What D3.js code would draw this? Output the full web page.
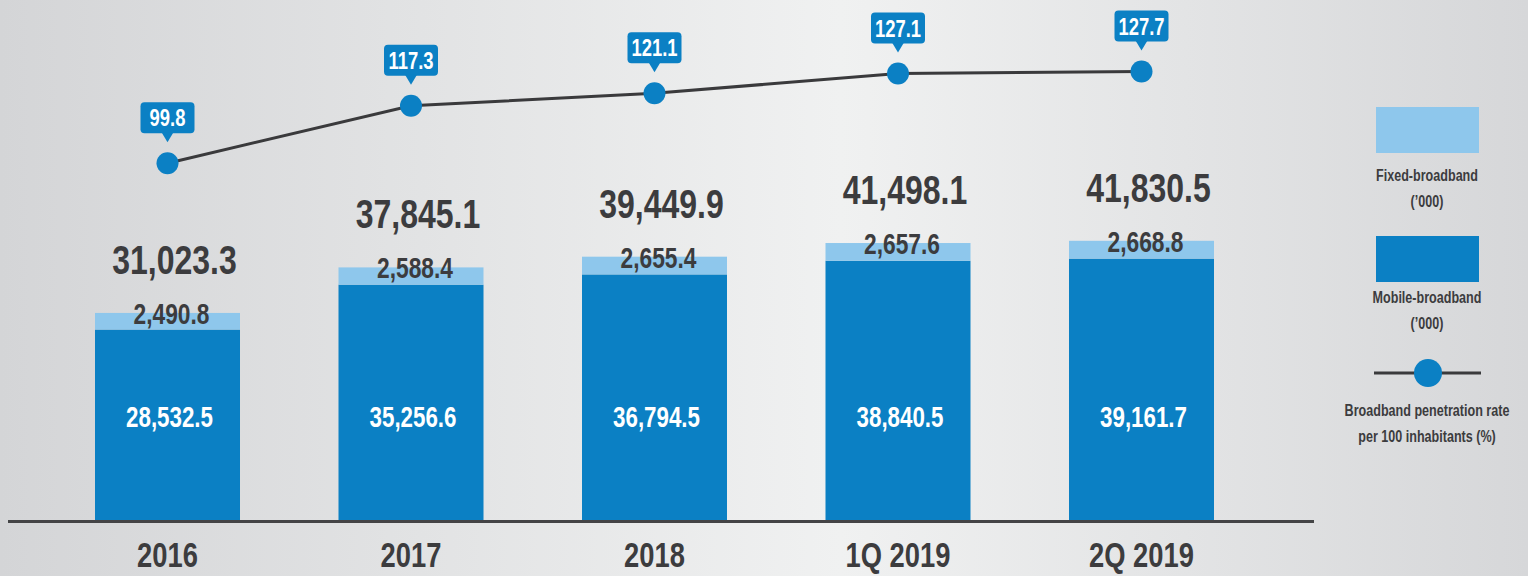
<!DOCTYPE html>
<html lang="en">
<head>
  <meta charset="UTF-8">
  <title>Broadband subscriptions</title>
  <script src="https://d3js.org/d3.v7.min.js"></script>
  <style>
    body {
      margin: 0;
      overflow: hidden;
    }
    svg text {
      font-family: 'Liberation Sans', Arial, sans-serif;
      font-weight: bold;
    }
  </style>
</head>
<body>
  <div id="chart"></div>
  <script>
    const periods = ["2016", "2017", "2018", "1Q 2019", "2Q 2019"];
    const mobileBroadband = [28532.5, 35256.6, 36794.5, 38840.5, 39161.7];
    const fixedBroadband = [2490.8, 2588.4, 2655.4, 2657.6, 2668.8];
    const totalBroadband = [31023.3, 37845.1, 39449.9, 41498.1, 41830.5];
    const penetrationRate = [99.8, 117.3, 121.1, 127.1, 127.7];

    const width = 1528, height = 576;
    const darkBlue = "#0b80c4", lightBlue = "#8ec7ec", textColor = "#3c3c3e";

    const svg = d3.select("#chart").append("svg")
      .attr("width", width)
      .attr("height", height);

    // background
    const defs = svg.append("defs");
    const grad = defs.append("linearGradient").attr("id", "bg")
      .attr("x1", "0%").attr("x2", "100%").attr("y1", "0%").attr("y2", "0%");
    grad.append("stop").attr("offset", "0%").attr("stop-color", "#d4d5d7");
    grad.append("stop").attr("offset", "55%").attr("stop-color", "#f0f1f1");
    grad.append("stop").attr("offset", "100%").attr("stop-color", "#d6d7d9");
    svg.append("rect").attr("width", width).attr("height", height).attr("fill", "url(#bg)");

    // condensed text: the installed fonts are wide, so squeeze them horizontally
    function condensed(sel, sx) {
      return sel.attr("transform", function (d) {
        const tx = +this.getAttribute("data-x") || 0;
        const ty = +this.getAttribute("data-y") || 0;
        return `translate(${tx},${ty}) scale(${sx},1)`;
      });
    }

    const x = d3.scaleBand()
      .domain(periods)
      .range([95, 1214])
      .paddingInner(0.4045)
      .paddingOuter(0);

    const y = d3.scaleLinear()
      .domain([0, 43000])
      .range([520, 233]);

    const yRate = d3.scaleLinear()
      .domain([95, 130])
      .range([179, 64]);

    const rows = periods.map((p, i) => ({
      period: p,
      mobile: mobileBroadband[i],
      fixed: fixedBroadband[i],
      total: totalBroadband[i],
      rate: penetrationRate[i]
    }));

    const bars = svg.append("g").selectAll("g")
      .data(rows)
      .join("g");

    bars.append("rect")
      .attr("x", d => x(d.period))
      .attr("width", x.bandwidth())
      .attr("y", d => y(d.mobile))
      .attr("height", d => y(0) - y(d.mobile))
      .attr("fill", darkBlue);

    bars.append("rect")
      .attr("x", d => x(d.period))
      .attr("width", x.bandwidth())
      .attr("y", d => y(d.mobile + d.fixed))
      .attr("height", d => y(d.mobile) - y(d.mobile + d.fixed))
      .attr("fill", lightBlue);

    const fmt = d3.format(",.1f");
    const cx = d => x(d.period) + x.bandwidth() / 2;

    // mobile value
    bars.append("text")
      .attr("data-x", d => cx(d) + 2)
      .attr("data-y", y(0) - 93)
      .attr("text-anchor", "middle")
      .attr("fill", "white")
      .attr("font-size", "29px")
      .text(d => fmt(d.mobile))
      .call(condensed, 0.77);

    // fixed value
    bars.append("text")
      .attr("data-x", d => cx(d) + 4)
      .attr("data-y", d => y(d.mobile + d.fixed) + 11)
      .attr("text-anchor", "middle")
      .attr("fill", textColor)
      .attr("font-size", "30px")
      .text(d => fmt(d.fixed))
      .call(condensed, 0.76);

    // total value
    bars.append("text")
      .attr("data-x", d => cx(d) + 7)
      .attr("data-y", d => y(d.mobile + d.fixed) - 39)
      .attr("text-anchor", "middle")
      .attr("fill", textColor)
      .attr("font-size", "40px")
      .text(d => fmt(d.total))
      .call(condensed, 0.8);

    // baseline
    svg.append("line")
      .attr("x1", 8).attr("x2", 1314)
      .attr("y1", 521.5).attr("y2", 521.5)
      .attr("stroke", "#444446")
      .attr("stroke-width", 3);

    const xAxis = d3.axisBottom(x).tickSize(0).tickPadding(0);
    const axisG = svg.append("g")
      .attr("transform", "translate(0,540)")
      .call(xAxis);
    axisG.select(".domain").remove();
    axisG.selectAll("text")
      .attr("dy", null)
      .attr("y", null)
      .attr("data-y", 27)
      .attr("fill", textColor)
      .attr("font-size", "36px")
      .attr("font-family", null)
      .call(condensed, 0.76);

    // penetration rate line
    const line = d3.line()
      .x(cx)
      .y(d => yRate(d.rate));

    svg.append("path")
      .datum(rows)
      .attr("d", line)
      .attr("fill", "none")
      .attr("stroke", "#3a3a3c")
      .attr("stroke-width", 3);

    const pts = svg.append("g").selectAll("g")
      .data(rows)
      .join("g")
      .attr("transform", d => `translate(${cx(d)},${yRate(d.rate)})`);

    pts.append("circle")
      .attr("r", 11)
      .attr("fill", darkBlue);

    pts.append("rect")
      .attr("x", -27).attr("y", -61)
      .attr("width", 54).attr("height", 31)
      .attr("rx", 4)
      .attr("fill", darkBlue);

    pts.append("path")
      .attr("d", "M-6,-31 L6,-31 L0,-21 Z")
      .attr("fill", darkBlue);

    pts.append("text")
      .attr("data-y", -37)
      .attr("text-anchor", "middle")
      .attr("fill", "white")
      .attr("font-size", "23px")
      .text(d => d.rate.toFixed(1))
      .call(condensed, 0.8);

    // legend
    const legend = svg.append("g").attr("transform", "translate(1427,0)");
    legend.append("rect")
      .attr("x", -51).attr("y", 107).attr("width", 103).attr("height", 46)
      .attr("fill", lightBlue);
    legend.append("rect")
      .attr("x", -51).attr("y", 236).attr("width", 103).attr("height", 46)
      .attr("fill", darkBlue);
    legend.append("line")
      .attr("x1", -53).attr("x2", 54).attr("y1", 373).attr("y2", 373)
      .attr("stroke", "#3a3a3c").attr("stroke-width", 3);
    legend.append("circle")
      .attr("cx", 1).attr("cy", 373).attr("r", 14)
      .attr("fill", darkBlue);

    const legendLines = [
      ["Fixed-broadband", 181], ["('000)", 207],
      ["Mobile-broadband", 303], ["('000)", 329],
      ["Broadband penetration rate", 416], ["per 100 inhabitants (%)", 442]
    ];
    legend.selectAll("text.lg")
      .data(legendLines)
      .join("text")
      .attr("class", "lg")
      .attr("data-y", d => d[1])
      .attr("text-anchor", "middle")
      .attr("fill", textColor)
      .attr("font-size", "17px")
      .text(d => d[0].replace("'", "\u2019"))
      .call(condensed, 0.74);
  </script>
</body>
</html>
